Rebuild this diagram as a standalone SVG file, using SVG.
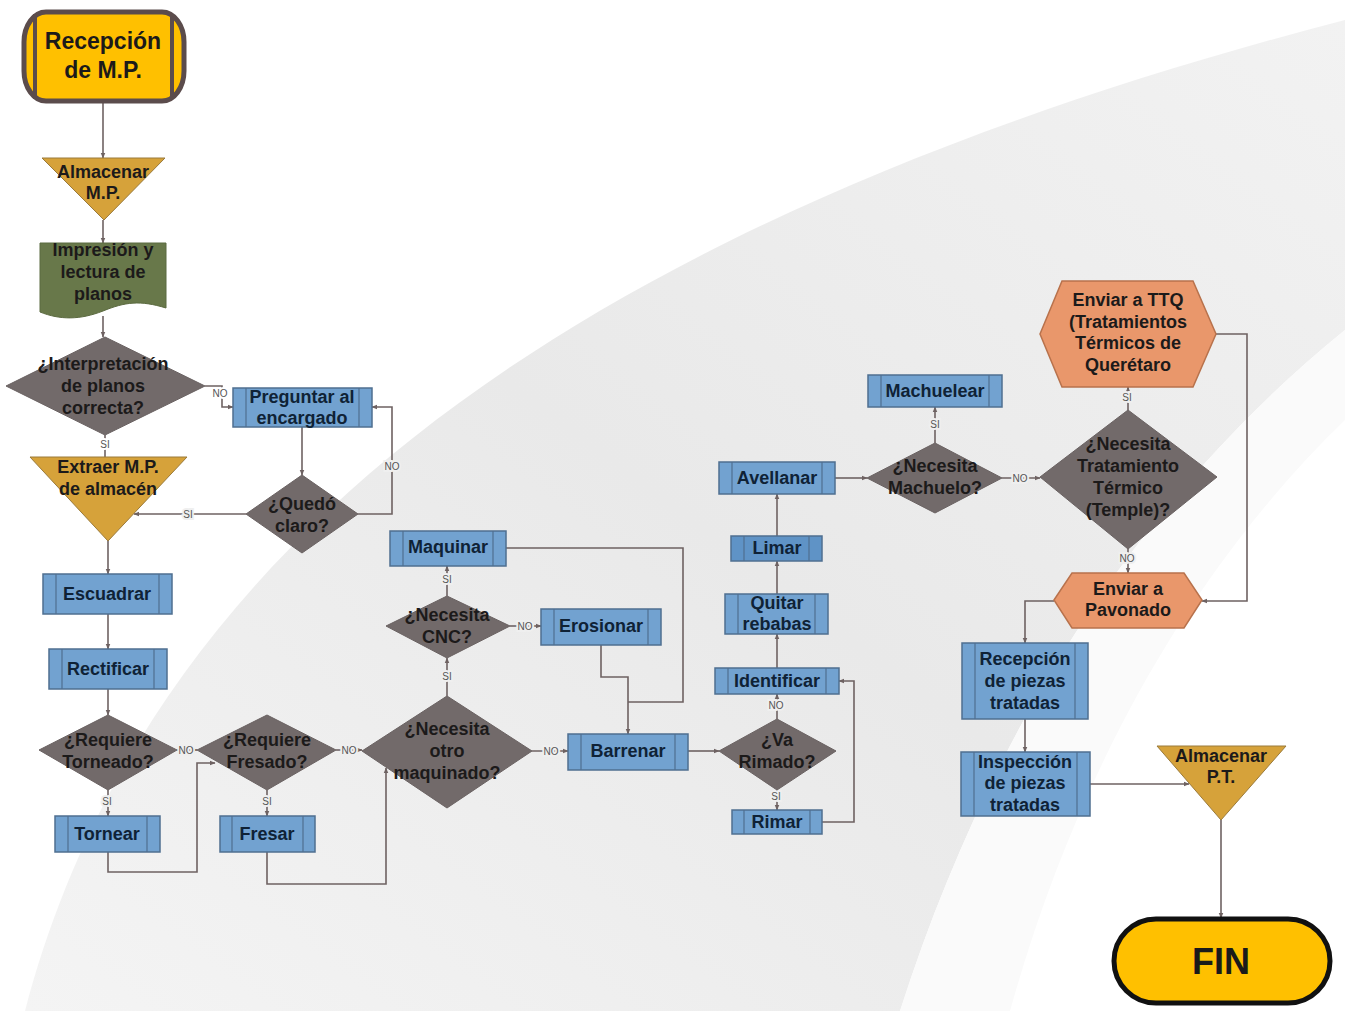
<svg xmlns="http://www.w3.org/2000/svg" width="1345" height="1011" viewBox="0 0 1345 1011">
<defs>
<linearGradient id="bg" x1="0" y1="1" x2="1" y2="0">
<stop offset="0" stop-color="#f4f4f4"/>
<stop offset="0.5" stop-color="#e9e9e9"/>
<stop offset="1" stop-color="#f2f2f2"/>
</linearGradient>
<marker id="ah" viewBox="0 0 10 10" refX="9" refY="5" markerWidth="6" markerHeight="6" orient="auto" markerUnits="userSpaceOnUse">
<path d="M0,1 L10,5 L0,9 Z" fill="#6e6262"/>
</marker>
<style>
.c{fill:none;stroke:#6e6262;stroke-width:1.6}
.p{fill:#72a2d0;stroke:#4f6f90;stroke-width:1.5}
.pl{stroke:#4f6f90;stroke-width:1.2}
.d{fill:#726a6a;stroke:#6a6262;stroke-width:1}
.tri{fill:#d6a23a;stroke:#9a7a3a;stroke-width:1}
.hex{fill:#e9976b;stroke:#b8724c;stroke-width:1.5}
.t{font-family:"Liberation Sans",Arial,sans-serif;font-weight:bold;font-size:18px;text-anchor:middle;dominant-baseline:central}
.tp{fill:#0f2236}
.td{fill:#1c1a1a}
.lb{font-family:"Liberation Sans",Arial,sans-serif;font-size:10px;fill:#555;text-anchor:middle;dominant-baseline:central;paint-order:stroke;stroke:#efefef;stroke-width:4}
</style>
</defs>
<rect width="1345" height="1011" fill="#ffffff"/>
<path d="M25 1011 C120 650 420 260 1345 20 L1345 330 C1160 480 1000 700 900 1011 Z" fill="url(#bg)"/>
<path d="M900 1011 C1000 700 1160 480 1345 330 L1345 420 C1200 560 1080 760 1010 1011 Z" fill="#fafafa"/>

<g id="connectors">
<line class="c" x1="103" y1="103" x2="103" y2="158" marker-end="url(#ah)"/>
<line class="c" x1="103" y1="220" x2="103" y2="243" marker-end="url(#ah)"/>
<line class="c" x1="103" y1="316" x2="103" y2="337" marker-end="url(#ah)"/>
<polyline class="c" points="205,386 222,386 222,407 233,407" marker-end="url(#ah)"/>
<text class="lb" x="220" y="393" style="stroke:#fff">NO</text>
<line class="c" x1="105" y1="435" x2="105" y2="457"/>
<text class="lb" x="105" y="444" style="stroke:#fff">SI</text>
<line class="c" x1="302" y1="427" x2="302" y2="475" marker-end="url(#ah)"/>
<polyline class="c" points="358,514 392,514 392,407 372,407" marker-end="url(#ah)"/>
<text class="lb" x="392" y="466">NO</text>
<line class="c" x1="246" y1="514" x2="134" y2="514" marker-end="url(#ah)"/>
<text class="lb" x="188" y="514">SI</text>
<line class="c" x1="108" y1="541" x2="108" y2="574" marker-end="url(#ah)"/>
<line class="c" x1="108" y1="614" x2="108" y2="649" marker-end="url(#ah)"/>
<line class="c" x1="108" y1="689" x2="108" y2="715" marker-end="url(#ah)"/>
<line class="c" x1="108" y1="790" x2="108" y2="816" marker-end="url(#ah)"/>
<text class="lb" x="107" y="801">SI</text>
<line class="c" x1="177" y1="750" x2="197" y2="750" marker-end="url(#ah)"/>
<text class="lb" x="186" y="750">NO</text>
<polyline class="c" points="108,852 108,872 197,872 197,763 215,763" marker-end="url(#ah)"/>
<line class="c" x1="267" y1="790" x2="267" y2="816" marker-end="url(#ah)"/>
<text class="lb" x="267" y="801">SI</text>
<line class="c" x1="336" y1="750" x2="362" y2="750" marker-end="url(#ah)"/>
<text class="lb" x="349" y="750">NO</text>
<polyline class="c" points="267,852 267,884 386,884 386,768" marker-end="url(#ah)"/>
<line class="c" x1="447" y1="696" x2="447" y2="658" marker-end="url(#ah)"/>
<text class="lb" x="447" y="676">SI</text>
<line class="c" x1="447" y1="596" x2="447" y2="566" marker-end="url(#ah)"/>
<text class="lb" x="447" y="579">SI</text>
<line class="c" x1="510" y1="626" x2="541" y2="626" marker-end="url(#ah)"/>
<text class="lb" x="525" y="626">NO</text>
<line class="c" x1="532" y1="751" x2="568" y2="751" marker-end="url(#ah)"/>
<text class="lb" x="551" y="751">NO</text>
<polyline class="c" points="601,645 601,677 628,677 628,734" marker-end="url(#ah)"/>
<polyline class="c" points="506,548 683,548 683,702 628,702"/>
<line class="c" x1="688" y1="751" x2="719" y2="751" marker-end="url(#ah)"/>
<line class="c" x1="777" y1="790" x2="777" y2="810" marker-end="url(#ah)"/>
<text class="lb" x="776" y="796">SI</text>
<polyline class="c" points="822,822 854,822 854,681 839,681" marker-end="url(#ah)"/>
<line class="c" x1="777" y1="719" x2="777" y2="694" marker-end="url(#ah)"/>
<text class="lb" x="776" y="705">NO</text>
<line class="c" x1="777" y1="668" x2="777" y2="634" marker-end="url(#ah)"/>
<line class="c" x1="777" y1="594" x2="777" y2="561" marker-end="url(#ah)"/>
<line class="c" x1="777" y1="536" x2="777" y2="494" marker-end="url(#ah)"/>
<line class="c" x1="835" y1="478" x2="867" y2="478" marker-end="url(#ah)"/>
<line class="c" x1="935" y1="443" x2="935" y2="407" marker-end="url(#ah)"/>
<text class="lb" x="935" y="424">SI</text>
<line class="c" x1="1002" y1="478" x2="1040" y2="478" marker-end="url(#ah)"/>
<text class="lb" x="1020" y="478">NO</text>
<line class="c" x1="1128" y1="410" x2="1128" y2="387" marker-end="url(#ah)"/>
<text class="lb" x="1127" y="397">SI</text>
<line class="c" x1="1128" y1="549" x2="1128" y2="573" marker-end="url(#ah)"/>
<text class="lb" x="1127" y="558">NO</text>
<polyline class="c" points="1216,334 1247,334 1247,601 1202,601" marker-end="url(#ah)"/>
<polyline class="c" points="1054,601 1025,601 1025,643" marker-end="url(#ah)"/>
<line class="c" x1="1025" y1="719" x2="1025" y2="752" marker-end="url(#ah)"/>
<line class="c" x1="1090" y1="784" x2="1189" y2="784" marker-end="url(#ah)"/>
<line class="c" x1="1221" y1="820" x2="1221" y2="918" marker-end="url(#ah)"/>
</g>

<g id="recepcion-mp">
<rect x="24" y="12" width="160" height="89" rx="22" ry="30" fill="#ffc000" stroke="#5b4c4c" stroke-width="5"/>
<line x1="35" y1="14" x2="35" y2="99" stroke="#5b4c4c" stroke-width="4"/>
<line x1="172" y1="14" x2="172" y2="99" stroke="#5b4c4c" stroke-width="4"/>
<text class="t td" x="103" y="41" style="font-size:23px">Recepción</text>
<text class="t td" x="103" y="70" style="font-size:23px">de M.P.</text>
</g>

<g id="almacenar-mp">
<polygon class="tri" points="42,158 165,158 104,220"/>
<text class="t td" x="103" y="172">Almacenar</text>
<text class="t td" x="103" y="193">M.P.</text>
</g>

<g id="impresion">
<path d="M40 243 H166 V308 C140 300 125 302 103 311 C80 320 60 320 40 312 Z" fill="#68784a" stroke="#5b6a40" stroke-width="1"/>
<text class="t td" x="103" y="250">Impresión y</text>
<text class="t td" x="103" y="272">lectura de</text>
<text class="t td" x="103" y="294">planos</text>
</g>

<g id="interpretacion">
<polygon class="d" points="105,337 205,386 105,435 6,386"/>
<text class="t td" x="103" y="364">¿Interpretación</text>
<text class="t td" x="103" y="386">de planos</text>
<text class="t td" x="103" y="408">correcta?</text>
</g>

<g id="preguntar">
<rect class="p" x="233" y="388" width="139" height="39"/>
<line class="pl" x1="246" y1="388" x2="246" y2="427"/>
<line class="pl" x1="359" y1="388" x2="359" y2="427"/>
<text class="t tp" x="302" y="397">Preguntar al</text>
<text class="t tp" x="302" y="418">encargado</text>
</g>

<g id="extraer">
<polygon class="tri" points="30,457 187,457 108,541"/>
<text class="t td" x="108" y="467">Extraer M.P.</text>
<text class="t td" x="108" y="489">de almacén</text>
</g>

<g id="quedo-claro">
<polygon class="d" points="302,475 358,514 302,553 246,514"/>
<text class="t td" x="302" y="504">¿Quedó</text>
<text class="t td" x="302" y="526">claro?</text>
</g>

<g id="escuadrar">
<rect class="p" x="43" y="574" width="129" height="40"/>
<line class="pl" x1="56" y1="574" x2="56" y2="614"/>
<line class="pl" x1="159" y1="574" x2="159" y2="614"/>
<text class="t tp" x="107" y="594">Escuadrar</text>
</g>

<g id="rectificar">
<rect class="p" x="49" y="649" width="118" height="40"/>
<line class="pl" x1="62" y1="649" x2="62" y2="689"/>
<line class="pl" x1="154" y1="649" x2="154" y2="689"/>
<text class="t tp" x="108" y="669">Rectificar</text>
</g>

<g id="req-torneado">
<polygon class="d" points="108,715 177,750 108,790 39,750"/>
<text class="t td" x="108" y="740">¿Requiere</text>
<text class="t td" x="108" y="762">Torneado?</text>
</g>

<g id="tornear">
<rect class="p" x="55" y="816" width="105" height="36"/>
<line class="pl" x1="68" y1="816" x2="68" y2="852"/>
<line class="pl" x1="147" y1="816" x2="147" y2="852"/>
<text class="t tp" x="107" y="834">Tornear</text>
</g>

<g id="req-fresado">
<polygon class="d" points="267,715 336,750 267,790 197,750"/>
<text class="t td" x="267" y="740">¿Requiere</text>
<text class="t td" x="267" y="762">Fresado?</text>
</g>

<g id="fresar">
<rect class="p" x="220" y="816" width="95" height="36"/>
<line class="pl" x1="232" y1="816" x2="232" y2="852"/>
<line class="pl" x1="303" y1="816" x2="303" y2="852"/>
<text class="t tp" x="267" y="834">Fresar</text>
</g>

<g id="otro-maquinado">
<polygon class="d" points="447,696 532,751 447,808 362,751"/>
<text class="t td" x="447" y="729">¿Necesita</text>
<text class="t td" x="447" y="751">otro</text>
<text class="t td" x="447" y="773">maquinado?</text>
</g>

<g id="necesita-cnc">
<polygon class="d" points="447,596 510,626 447,658 386,626"/>
<text class="t td" x="447" y="615">¿Necesita</text>
<text class="t td" x="447" y="637">CNC?</text>
</g>

<g id="maquinar">
<rect class="p" x="390" y="531" width="116" height="35"/>
<line class="pl" x1="403" y1="531" x2="403" y2="566"/>
<line class="pl" x1="493" y1="531" x2="493" y2="566"/>
<text class="t tp" x="448" y="547">Maquinar</text>
</g>

<g id="erosionar">
<rect class="p" x="541" y="609" width="120" height="36"/>
<line class="pl" x1="554" y1="609" x2="554" y2="645"/>
<line class="pl" x1="648" y1="609" x2="648" y2="645"/>
<text class="t tp" x="601" y="626">Erosionar</text>
</g>

<g id="barrenar">
<rect class="p" x="568" y="734" width="120" height="36"/>
<line class="pl" x1="581" y1="734" x2="581" y2="770"/>
<line class="pl" x1="675" y1="734" x2="675" y2="770"/>
<text class="t tp" x="628" y="751">Barrenar</text>
</g>

<g id="va-rimado">
<polygon class="d" points="777,719 836,751 777,790 719,751"/>
<text class="t td" x="777" y="740">¿Va</text>
<text class="t td" x="777" y="762">Rimado?</text>
</g>

<g id="rimar">
<rect class="p" x="732" y="810" width="90" height="24"/>
<line class="pl" x1="744" y1="810" x2="744" y2="834"/>
<line class="pl" x1="810" y1="810" x2="810" y2="834"/>
<text class="t tp" x="777" y="822">Rimar</text>
</g>

<g id="identificar">
<rect class="p" x="715" y="668" width="124" height="26"/>
<line class="pl" x1="728" y1="668" x2="728" y2="694"/>
<line class="pl" x1="826" y1="668" x2="826" y2="694"/>
<text class="t tp" x="777" y="681">Identificar</text>
</g>

<g id="quitar-rebabas">
<rect class="p" x="725" y="594" width="103" height="40"/>
<line class="pl" x1="738" y1="594" x2="738" y2="634"/>
<line class="pl" x1="815" y1="594" x2="815" y2="634"/>
<text class="t tp" x="777" y="603">Quitar</text>
<text class="t tp" x="777" y="624">rebabas</text>
</g>

<g id="limar">
<rect class="p" x="731" y="536" width="91" height="25" style="fill:#5f93c6"/>
<line class="pl" x1="744" y1="536" x2="744" y2="561"/>
<line class="pl" x1="809" y1="536" x2="809" y2="561"/>
<text class="t tp" x="777" y="548">Limar</text>
</g>

<g id="avellanar">
<rect class="p" x="719" y="462" width="116" height="32"/>
<line class="pl" x1="732" y1="462" x2="732" y2="494"/>
<line class="pl" x1="822" y1="462" x2="822" y2="494"/>
<text class="t tp" x="777" y="478">Avellanar</text>
</g>

<g id="necesita-machuelo">
<polygon class="d" points="935,443 1002,478 935,513 867,478"/>
<text class="t td" x="935" y="466">¿Necesita</text>
<text class="t td" x="935" y="488">Machuelo?</text>
</g>

<g id="machuelear">
<rect class="p" x="868" y="375" width="134" height="32"/>
<line class="pl" x1="881" y1="375" x2="881" y2="407"/>
<line class="pl" x1="989" y1="375" x2="989" y2="407"/>
<text class="t tp" x="935" y="391">Machuelear</text>
</g>

<g id="tratamiento-termico">
<polygon class="d" points="1128,410 1217,477 1128,549 1040,477"/>
<text class="t td" x="1128" y="444">¿Necesita</text>
<text class="t td" x="1128" y="466">Tratamiento</text>
<text class="t td" x="1128" y="488">Térmico</text>
<text class="t td" x="1128" y="510">(Temple)?</text>
</g>

<g id="enviar-ttq">
<polygon class="hex" points="1040,334 1062,281 1193,281 1216,334 1193,387 1062,387"/>
<text class="t td" x="1128" y="300">Enviar a TTQ</text>
<text class="t td" x="1128" y="322">(Tratamientos</text>
<text class="t td" x="1128" y="343">Térmicos de</text>
<text class="t td" x="1128" y="365">Querétaro</text>
</g>

<g id="enviar-pavonado">
<polygon class="hex" points="1054,600 1072,573 1184,573 1202,600 1184,628 1072,628"/>
<text class="t td" x="1128" y="589">Enviar a</text>
<text class="t td" x="1128" y="610">Pavonado</text>
</g>

<g id="recepcion-piezas">
<rect class="p" x="962" y="643" width="126" height="76"/>
<line class="pl" x1="975" y1="643" x2="975" y2="719"/>
<line class="pl" x1="1075" y1="643" x2="1075" y2="719"/>
<text class="t tp" x="1025" y="659">Recepción</text>
<text class="t tp" x="1025" y="681">de piezas</text>
<text class="t tp" x="1025" y="703">tratadas</text>
</g>

<g id="inspeccion">
<rect class="p" x="961" y="752" width="129" height="64"/>
<line class="pl" x1="974" y1="752" x2="974" y2="816"/>
<line class="pl" x1="1077" y1="752" x2="1077" y2="816"/>
<text class="t tp" x="1025" y="762">Inspección</text>
<text class="t tp" x="1025" y="783">de piezas</text>
<text class="t tp" x="1025" y="805">tratadas</text>
</g>

<g id="almacenar-pt">
<polygon class="tri" points="1157,746 1286,746 1221,820"/>
<text class="t td" x="1221" y="756">Almacenar</text>
<text class="t td" x="1221" y="777">P.T.</text>
</g>

<g id="fin">
<rect x="1114" y="919" width="216" height="84" rx="42" ry="42" fill="#ffc000" stroke="#111" stroke-width="5"/>
<text class="t" x="1221" y="961" style="font-size:36px;fill:#1a1a1a">FIN</text>
</g>
</svg>
